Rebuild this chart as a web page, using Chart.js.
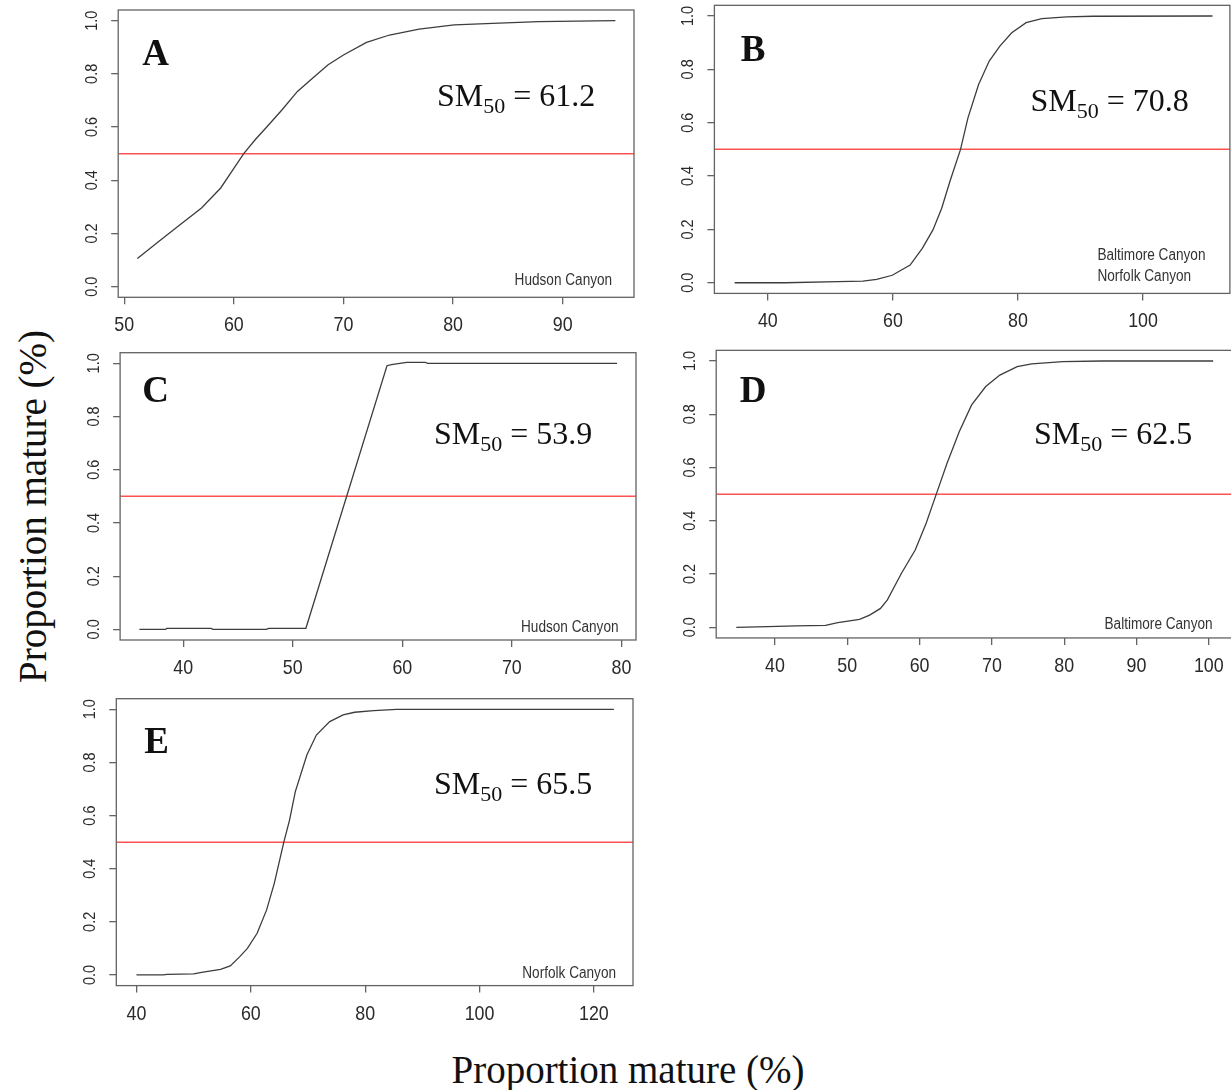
<!DOCTYPE html>
<html><head><meta charset="utf-8">
<script src="https://cdn.jsdelivr.net/npm/chart.js@4.4.1/dist/chart.umd.min.js"></script>
<style>
html,body{margin:0;padding:0;background:#fff;overflow:hidden;width:1231px;height:1090px;position:relative;}
canvas{position:absolute;}
.title{position:absolute;font-family:"Liberation Serif","Times New Roman",serif;font-size:39px;line-height:39px;color:#111;white-space:nowrap;text-align:center;width:600px;height:39px;}
#xtitle{left:328px;top:1050px;}
#ytitle{left:-268px;top:487px;transform:rotate(-90deg);}
</style></head><body>
<div id="ytitle" class="title"></div>
<div id="xtitle" class="title"></div>
<script>
// ---------------- data ----------------
const axisTitle = 'Proportion mature (%)';
const threshold = 0.5;
const yTickValues = [0, 0.2, 0.4, 0.6, 0.8, 1.0];
const yTickLabels = ['0.0', '0.2', '0.4', '0.6', '0.8', '1.0'];

const panelLetters = ['A', 'B', 'C', 'D', 'E'];
const sm50Values = ['61.2', '70.8', '53.9', '62.5', '65.5'];

// Panel A – Hudson Canyon
const lenA  = [51.2, 53.0, 55.0, 57.05, 58.8, 60.0, 60.9, 62.0, 63.0, 64.4, 65.8, 67.2, 68.6, 70.0, 72.1, 74.2, 76.9, 80.1, 83.6, 87.8, 94.8];
const propA = [0.106, 0.165, 0.23, 0.296, 0.371, 0.445, 0.50, 0.555, 0.60, 0.665, 0.734, 0.784, 0.834, 0.871, 0.918, 0.946, 0.968, 0.984, 0.990, 0.996, 1.0];
const ticksA = [50, 60, 70, 80, 90];
const namesA = ['Hudson Canyon'];

// Panel B – Baltimore + Norfolk Canyon
const lenB  = [34.7, 42.8, 51.2, 55.2, 57.4, 59.9, 62.75, 64.7, 66.4, 67.8, 69.2, 70.8, 72.0, 73.7, 75.4, 77.1, 79.0, 81.3, 83.8, 87.8, 92.0, 111.1];
const propB = [0.0, 0.0, 0.004, 0.006, 0.0125, 0.028, 0.066, 0.129, 0.198, 0.279, 0.386, 0.499, 0.618, 0.743, 0.831, 0.887, 0.937, 0.975, 0.990, 0.997, 0.999, 1.0];
const ticksB = [40, 60, 80, 100];
const namesB = ['Baltimore Canyon', 'Norfolk Canyon'];

// Panel C – Hudson Canyon
const lenC  = [36.0, 38.4, 38.5, 42.55, 42.7, 47.6, 47.8, 51.2, 58.6, 59.0, 60.4, 62.1, 62.3, 79.6];
const propC = [0.0, 0.0, 0.004, 0.004, 0.0, 0.0, 0.004, 0.004, 0.991, 0.995, 1.004, 1.004, 1.0, 1.0];
const ticksC = [40, 50, 60, 70, 80];
const namesC = ['Hudson Canyon'];

// Panel D – Baltimore Canyon
const lenD  = [34.66, 39.0, 42.9, 47.0, 48.7, 51.7, 53.1, 54.6, 55.55, 57.5, 59.4, 60.9, 62.35, 63.8, 65.5, 67.2, 69.15, 71.1, 73.5, 75.5, 79.8, 85.2, 100.6];
const propD = [0.0, 0.0025, 0.005, 0.0075, 0.0175, 0.03, 0.046, 0.071, 0.103, 0.203, 0.29, 0.39, 0.503, 0.616, 0.735, 0.835, 0.904, 0.947, 0.979, 0.989, 0.9975, 1.0, 1.0];
const ticksD = [40, 50, 60, 70, 80, 90, 100];
const namesD = ['Baltimore Canyon'];

// Panel E – Norfolk Canyon
const lenE  = [40.0, 44.7, 45.35, 50.0, 51.4, 54.7, 56.4, 58.07, 59.4, 61.1, 62.76, 64.1, 65.77, 66.77, 67.78, 69.8, 71.46, 73.8, 76.14, 78.15, 81.5, 85.5, 123.5];
const propE = [0.0, 0.0, 0.0025, 0.004, 0.01, 0.021, 0.034, 0.069, 0.10, 0.157, 0.245, 0.345, 0.50, 0.583, 0.69, 0.828, 0.903, 0.954, 0.979, 0.989, 0.995, 1.0, 1.0];
const ticksE = [40, 60, 80, 100, 120];
const namesE = ['Norfolk Canyon'];

// ---------------- layout ----------------
document.getElementById('xtitle').textContent = axisTitle;
document.getElementById('ytitle').textContent = axisTitle;

const panels = [
  { xs: lenA, ys: propA, ticks: ticksA, names: namesA, xmin: 49.45, xmax: 96.5,
    canvas: {x: 60, y: 0, w: 600, h: 340}, area: {l: 118.2, r: 634, t: 10, b: 297.3},
    letter: {x: 142.3, y: 65}, sm: {x: 437, y: 106}, legend: {x: 514.6, y: 285} },
  { xs: lenB, ys: propB, ticks: ticksB, names: namesB, xmin: 31.46, xmax: 113.88,
    canvas: {x: 660, y: 0, w: 571, h: 340}, area: {l: 714.4, r: 1229.9, t: 5.33, b: 293.4},
    letter: {x: 740.8, y: 61}, sm: {x: 1030.4, y: 111}, legend: {x: 1097.4, y: 260} },
  { xs: lenC, ys: propC, ticks: ticksC, names: namesC, xmin: 34.24, xmax: 81.33,
    canvas: {x: 60, y: 340, w: 600, h: 340}, area: {l: 120.1, r: 636, t: 352.7, b: 640},
    letter: {x: 142.3, y: 402}, sm: {x: 434, y: 444.3}, legend: {x: 521, y: 631.7} },
  { xs: lenD, ys: propD, ticks: ticksD, names: namesD, xmin: 31.88, xmax: 103.3,
    canvas: {x: 660, y: 340, w: 580, h: 340}, area: {l: 716.2, r: 1232.7, t: 350.35, b: 637.95},
    letter: {x: 739.7, y: 402}, sm: {x: 1033.9, y: 444.3}, legend: {x: 1104.5, y: 629.3} },
  { xs: lenE, ys: propE, ticks: ticksE, names: namesE, xmin: 36.47, xmax: 126.84,
    canvas: {x: 60, y: 690, w: 600, h: 340}, area: {l: 116.3, r: 633, t: 698.7, b: 985.6},
    letter: {x: 144.2, y: 753}, sm: {x: 434, y: 794.3}, legend: {x: 522.3, y: 977.7} }
];

const SANS = '"Liberation Sans", Arial, sans-serif';
const SERIF = '"Liberation Serif", "Times New Roman", serif';
const NARROW = 0.85; // R's Arial text here is horizontally condensed

function narrowText(ctx, text, x, y, rot, align) {
  ctx.save();
  ctx.translate(x, y);
  if (rot) ctx.rotate(rot);
  ctx.scale(NARROW, 1);
  ctx.textAlign = align;
  ctx.textBaseline = 'alphabetic';
  ctx.fillText(text, 0, 0);
  ctx.restore();
}

function makeAnnot(p, idx) {
  const ox = p.canvas.x, oy = p.canvas.y;
  return {
    id: 'annot' + idx,
    afterDraw(chart) {
      const ctx = chart.ctx;
      const ca = chart.chartArea;
      ctx.save();
      // plot box
      ctx.strokeStyle = '#636363';
      ctx.lineWidth = 1.3;
      ctx.strokeRect(ca.left, ca.top, ca.right - ca.left, ca.bottom - ca.top);
      // x tick labels (positions from the Chart.js x scale)
      const xs = chart.scales.x;
      ctx.fillStyle = '#2a2a2a';
      ctx.font = '21px ' + SANS;
      p.ticks.forEach(v => narrowText(ctx, String(v), xs.getPixelForValue(v), ca.bottom + 34, 0, 'center'));
      // rotated y tick labels (positions from the Chart.js y scale)
      const ys = chart.scales.y;
      ctx.font = '17px ' + SANS;
      yTickValues.forEach((v, i) => narrowText(ctx, yTickLabels[i], ca.left - 21, ys.getPixelForValue(v), -Math.PI / 2, 'center'));
      // panel letter
      ctx.textAlign = 'left';
      ctx.textBaseline = 'alphabetic';
      ctx.fillStyle = '#111';
      ctx.font = 'bold 37px ' + SERIF;
      ctx.fillText(panelLetters[idx], p.letter.x - ox, p.letter.y - oy);
      // SM50 label
      let x = p.sm.x - ox; const y = p.sm.y - oy;
      ctx.font = '32px ' + SERIF;
      ctx.fillText('SM', x, y);
      x += ctx.measureText('SM').width;
      ctx.font = '22px ' + SERIF;
      ctx.fillText('50', x, y + 7);
      x += ctx.measureText('50').width;
      ctx.font = '32px ' + SERIF;
      ctx.fillText(' = ' + sm50Values[idx], x, y);
      // canyon legend
      ctx.font = '16px ' + SANS;
      ctx.fillStyle = '#333';
      p.names.forEach((n, i) => narrowText(ctx, n, p.legend.x - ox, p.legend.y - oy + i * 21, 0, 'left'));
      ctx.restore();
    }
  };
}

panels.forEach((p, idx) => {
  const c = document.createElement('canvas');
  c.width = p.canvas.w; c.height = p.canvas.h;
  c.style.left = p.canvas.x + 'px'; c.style.top = p.canvas.y + 'px';
  c.style.width = p.canvas.w + 'px'; c.style.height = p.canvas.h + 'px';
  document.body.appendChild(c);
  const a = p.area, cv = p.canvas;
  const curve = p.xs.map((v, i) => ({x: v, y: p.ys[i]}));
  new Chart(c, {
    type: 'line',
    data: {
      datasets: [
        { data: curve, borderColor: '#3d3d3d', borderWidth: 1.3, pointRadius: 0, tension: 0, fill: false },
        { data: [{x: p.xmin, y: threshold}, {x: p.xmax, y: threshold}], borderColor: '#ff5252', borderWidth: 1.5, pointRadius: 0, tension: 0, fill: false }
      ]
    },
    options: {
      responsive: false, animation: false, devicePixelRatio: 1,
      events: [],
      layout: { padding: { left: 0, bottom: 0, top: a.t - cv.y, right: cv.x + cv.w - a.r } },
      plugins: { legend: { display: false }, tooltip: { enabled: false } },
      scales: {
        x: {
          type: 'linear', min: p.xmin, max: p.xmax,
          afterFit: s => { s.height = cv.y + cv.h - a.b; },
          afterBuildTicks: s => { s.ticks = p.ticks.map(v => ({value: v})); },
          grid: { drawOnChartArea: false, drawTicks: true, tickLength: 7, color: '#636363', tickColor: '#636363', lineWidth: 1.3 },
          border: { display: false },
          ticks: { display: false }
        },
        y: {
          type: 'linear', min: -0.04, max: 1.04,
          afterFit: s => { s.width = a.l - cv.x; },
          afterBuildTicks: s => { s.ticks = yTickValues.map(v => ({value: v})); },
          grid: { drawOnChartArea: false, drawTicks: true, tickLength: 7, color: '#636363', tickColor: '#636363', lineWidth: 1.3 },
          border: { display: false },
          ticks: { display: false }
        }
      }
    },
    plugins: [makeAnnot(p, idx)]
  });
});
</script>
</body></html>
